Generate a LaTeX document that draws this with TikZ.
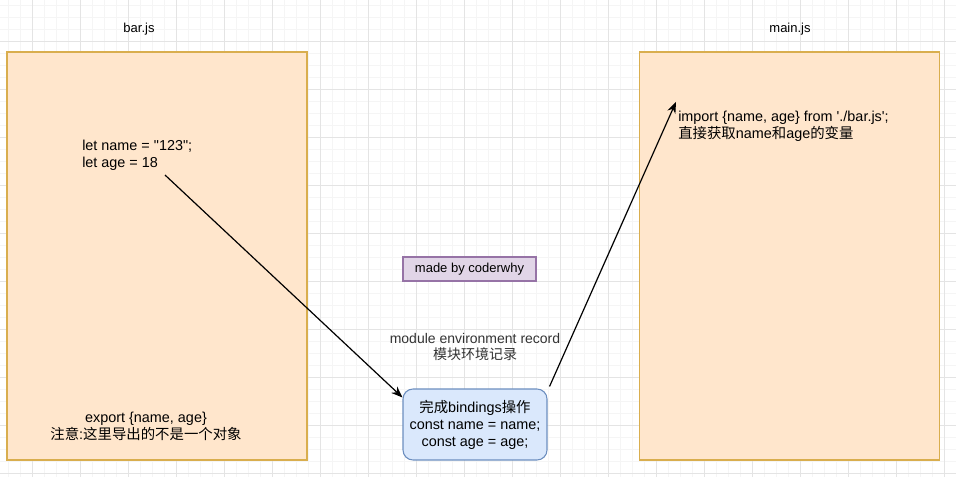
\documentclass[tikz,border=0pt]{standalone}
\usepackage{fontspec}
\setmainfont{Liberation Sans}[Ligatures=TeXOff]
\newfontfamily\cjk{Noto Sans CJK SC}
\usetikzlibrary{arrows.meta}
\definecolor{peach}{HTML}{FFE6CC}
\definecolor{peachline}{HTML}{D9AE4E}
\definecolor{bindfill}{HTML}{DAE8FC}
\definecolor{bindline}{HTML}{6C8EBF}
\definecolor{markfill}{HTML}{E1D5E7}
\definecolor{markline}{HTML}{9673A6}
\definecolor{gridminor}{HTML}{F5F5F5}
\definecolor{gridmajor}{HTML}{E4E4E4}
\newcommand\bodytxt{\fontsize{10.8pt}{12.75pt}\selectfont}
\newcommand\titletxt{\fontsize{9.75pt}{12pt}\selectfont}
\tikzset{
  filebox/.style={draw=peachline,fill=peach,line width=1.1pt,
    minimum width=225pt,minimum height=306pt},
  bindbox/.style={draw=bindline,fill=bindfill,line width=.8pt,rounded corners=7.5pt,
    minimum width=108pt,minimum height=53.25pt,align=center,font=\bodytxt},
  markbox/.style={draw=markline,fill=markfill,line width=.8pt,
    minimum width=99.75pt,minimum height=18pt,font=\titletxt},
  code/.style={align=left,font=\bodytxt,inner sep=0pt},
  note/.style={align=center,font=\bodytxt,inner sep=0pt},
  flow/.style={line width=.9pt,-{Stealth[length=8.5pt,width=6.5pt]}}
}
\begin{document}
\begin{tikzpicture}[x=.75pt,y=-.75pt]
   \useasboundingbox (0,0) rectangle (956,477);
   \fill[white] (0,0) rectangle (956,477);
   % grid
   \foreach \x in {8,20,...,956} \draw[gridminor,line width=.5pt] (\x,0) -- (\x,477);
   \foreach \y in {5,17,...,477} \draw[gridminor,line width=.5pt] (0,\y) -- (956,\y);
   \foreach \x in {32,80,...,956} \draw[gridmajor,line width=.6pt] (\x,0) -- (\x,477);
   \foreach \y in {41,89,...,477} \draw[gridmajor,line width=.6pt] (0,\y) -- (956,\y);

   \path (139,29) node[font=\titletxt] (bartitle) {bar.js};
   \path (790,29) node[font=\titletxt] (maintitle) {main.js};

   \path (157,256) node[filebox] (bar) {};
   \path (789.5,256) node[filebox] (main) {};

   \path (82,155.5) node[code,anchor=west] (vars) {let name = "123";\\let age = 18};
   \path (146,426) node[note] (export) {export \{name, age\}\\{\cjk 注意}:{\cjk 这里导出的不是一个对象}};
   \path (678,126) node[code,anchor=west] (imp) {import \{name, age\} from './bar.js';\\{\cjk 直接获取}name{\cjk 和}age{\cjk 的变量}};

   \path (469.5,269) node[markbox] (mark) {made by coderwhy};
   \path (475,347) node[note,text=black!80,font=\fontsize{10.5pt}{12pt}\selectfont] (record) {module environment record\\{\cjk 模块环境记录}};
   \path (475,424.5) node[bindbox] (bind) {{\cjk 完成}bindings{\cjk 操作}\\const name = name;\\const age = age;};

   \coordinate (src) at (165,175);
   \draw[flow] (src) -- ([yshift=-6.75pt]bind.north west);
   \draw[flow] ([xshift=1.5pt,yshift=1.5pt]bind.north east) -- ([xshift=-1.5pt,yshift=6.5pt]imp.north west);

\end{tikzpicture}
\end{document}
